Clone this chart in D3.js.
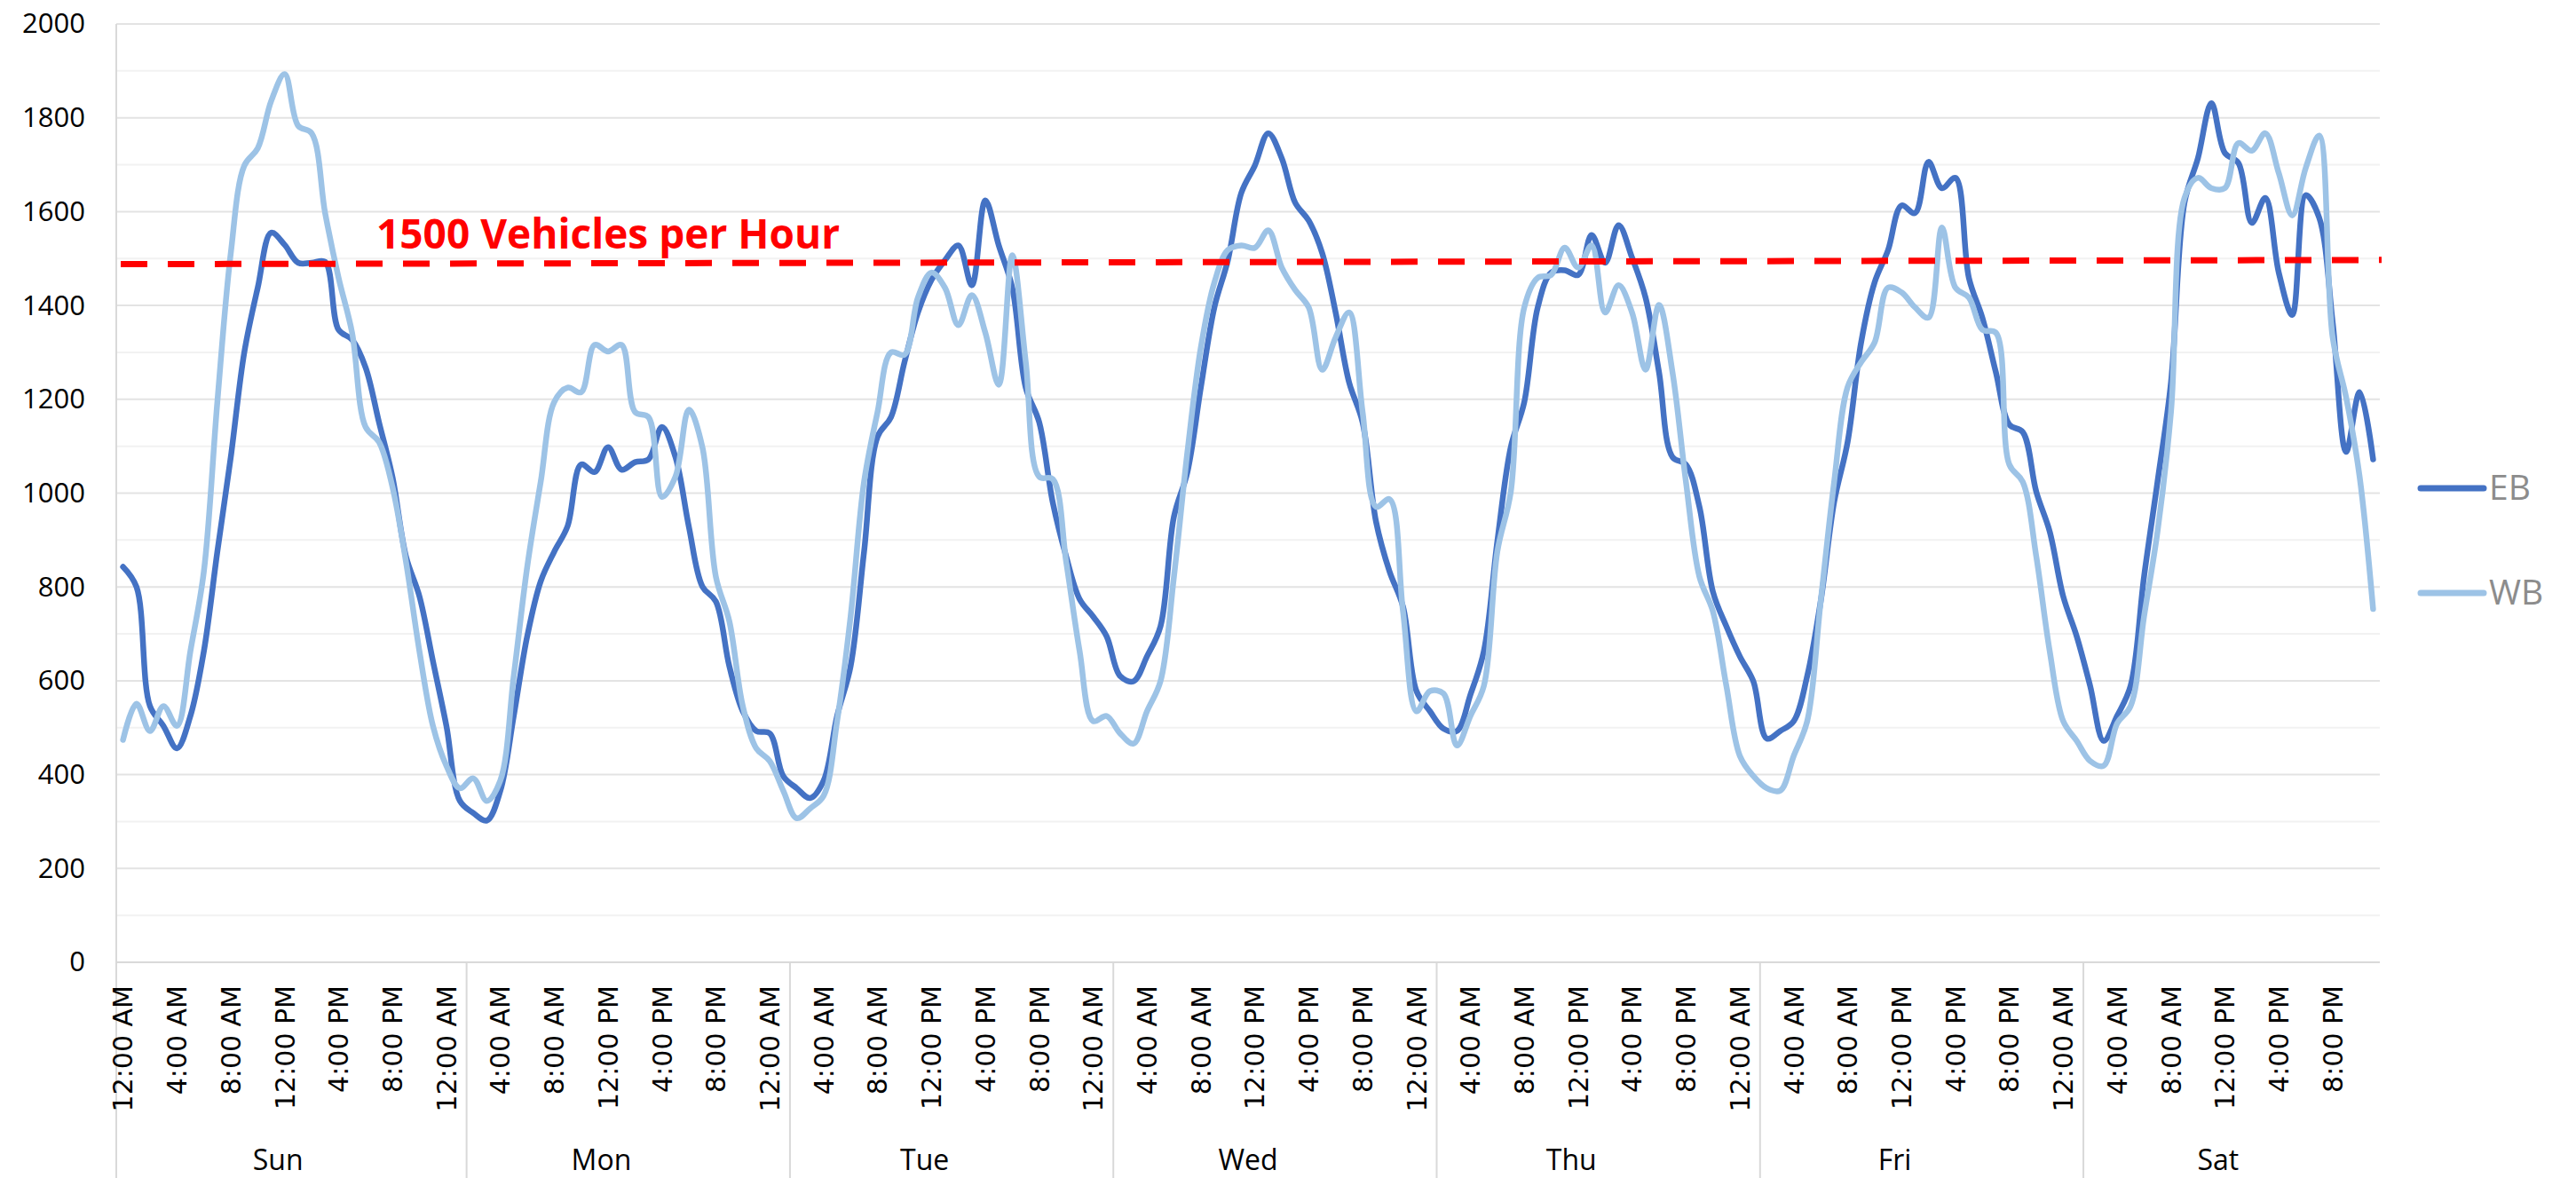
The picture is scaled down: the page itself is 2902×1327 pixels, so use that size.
<!DOCTYPE html>
<html>
<head>
<meta charset="utf-8">
<script src="https://cdn.jsdelivr.net/npm/d3@7"></script>
<style>
  body { margin: 0; background: #fff; }
  svg { display: block; }
</style>
</head>
<body>
<div id="chart"></div>
<script>
// hourly volumes, 168 points, Sun 12:00 AM .. Sat 11:00 PM
const days = ['Sun', 'Mon', 'Tue', 'Wed', 'Thu', 'Fri', 'Sat'];
const dayStarts = [0, 26, 50, 74, 98, 122, 146];
const hourLabels = ['12:00 AM', '4:00 AM', '8:00 AM', '12:00 PM', '4:00 PM', '8:00 PM'];

const eb = [
  843, 800, 546, 504, 456, 525, 663, 875, 1077, 1300, 1438, 1555, 1529, 1491, 1491, 1493,
  1348, 1327, 1268, 1151, 1034, 865, 780, 642, 504, 344, 318, 302, 365, 525, 695, 812,
  875, 930, 1061, 1045, 1098, 1050, 1066, 1072, 1141, 1077, 928, 801, 769, 631, 535, 493,
  488, 397, 371, 350, 387, 525, 631, 875, 1120, 1162, 1279, 1385, 1454, 1496, 1528, 1443,
  1624, 1528, 1438, 1225, 1151, 981, 865, 774, 737, 695, 610, 599, 652, 716, 950, 1045,
  1226, 1396, 1496, 1640, 1698, 1767, 1714, 1619, 1581, 1512, 1385, 1236, 1151, 939, 833, 758,
  578, 535, 498, 493, 570, 663, 897, 1098, 1194, 1396, 1470, 1475, 1465, 1550, 1491, 1571,
  1502, 1417, 1258, 1077, 1061, 971, 790, 716, 652, 599, 477, 493, 514, 610, 769, 981,
  1109, 1321, 1449, 1518, 1613, 1597, 1706, 1650, 1672, 1459, 1374, 1258, 1146, 1130, 1003, 918,
  780, 695, 589, 472, 525, 589, 822, 1024, 1236, 1619, 1714, 1831, 1725, 1704, 1576, 1629,
  1470, 1380, 1635, 1587, 1364, 1088, 1215, 1072
];

const wb = [
  474, 551, 493, 546, 504, 663, 833, 1194, 1512, 1698, 1735, 1836, 1893, 1783, 1767, 1597,
  1459, 1342, 1141, 1109, 1013, 854, 663, 504, 419, 371, 392, 344, 387, 610, 843, 1024,
  1194, 1225, 1215, 1316, 1302, 1316, 1173, 1162, 992, 1035, 1178, 1098, 822, 727, 546, 456,
  429, 366, 307, 328, 355, 514, 737, 1024, 1173, 1300, 1295, 1417, 1470, 1438, 1358, 1422,
  1342, 1231, 1507, 1280, 1035, 1030, 854, 663, 514, 525, 488, 466, 535, 599, 822, 1088,
  1311, 1449, 1518, 1528, 1523, 1560, 1481, 1433, 1396, 1263, 1332, 1385, 1173, 971, 987, 748,
  535, 578, 573, 462, 525, 589, 875, 1003, 1396, 1459, 1465, 1523, 1481, 1528, 1385, 1443,
  1385, 1263, 1401, 1258, 1024, 822, 748, 589, 440, 397, 371, 366, 440, 514, 769, 1024,
  1226, 1279, 1321, 1438, 1428, 1396, 1374, 1566, 1438, 1417, 1348, 1342, 1061, 1024, 865, 663,
  514, 472, 429, 419, 509, 546, 737, 918, 1173, 1629, 1672, 1650, 1650, 1746, 1730, 1767,
  1682, 1592, 1693, 1762, 1332, 1204, 1035, 753
];

const series = [
  { name: 'EB', values: eb, color: '#4472C4' },
  { name: 'WB', values: wb, color: '#9DC3E6' }
];

const yMajor = d3.range(0, 2001, 200);
const yMinor = d3.range(100, 2000, 200);
const threshold = [1488, 1497]; // drawn line, slightly off level in the original
const thresholdLabel = '1500 Vehicles per Hour';

const width = 2902, height = 1327;
const plot = { left: 131, right: 2681, top: 27, bottom: 1084 };

const svg = d3.select('#chart').append('svg')
  .attr('width', width)
  .attr('height', height);

const x = d3.scaleBand()
  .domain(d3.range(eb.length))
  .range([plot.left, plot.right])
  .paddingInner(0)
  .paddingOuter(0);

const y = d3.scaleLinear()
  .domain([0, 2000])
  .range([plot.bottom, plot.top]);

const cx = i => x(i) + x.bandwidth() / 2;

// gridlines
svg.append('g')
  .selectAll('line')
  .data(yMinor)
  .join('line')
  .attr('x1', plot.left).attr('x2', plot.right)
  .attr('y1', d => y(d)).attr('y2', d => y(d))
  .attr('stroke', '#f2f2f2')
  .attr('stroke-width', 2);

svg.append('g')
  .selectAll('line')
  .data(yMajor.filter(d => d > 0))
  .join('line')
  .attr('x1', plot.left).attr('x2', plot.right)
  .attr('y1', d => y(d)).attr('y2', d => y(d))
  .attr('stroke', '#e3e3e3')
  .attr('stroke-width', 2);

// y axis labels
const yAxis = d3.axisLeft(y)
  .tickValues(yMajor)
  .tickFormat(d3.format('d'))
  .tickSize(0)
  .tickPadding(35);

svg.append('g')
  .attr('transform', `translate(${plot.left},0)`)
  .call(yAxis)
  .call(g => g.select('.domain').remove())
  .selectAll('text')
  .attr('font-family', '"Open Sans", "Noto Sans", sans-serif')
  .attr('font-size', 31)
  .attr('fill', '#000');

// category axis: baseline, left edge, day separators
svg.append('line')
  .attr('x1', plot.left).attr('x2', plot.right)
  .attr('y1', y(0)).attr('y2', y(0))
  .attr('stroke', '#d9d9d9')
  .attr('stroke-width', 2);

svg.append('line')
  .attr('x1', plot.left).attr('x2', plot.left)
  .attr('y1', plot.top).attr('y2', height)
  .attr('stroke', '#d9d9d9')
  .attr('stroke-width', 2);

svg.append('g')
  .selectAll('line')
  .data(dayStarts.slice(1))
  .join('line')
  .attr('x1', d => x(d)).attr('x2', d => x(d))
  .attr('y1', y(0)).attr('y2', height)
  .attr('stroke', '#d9d9d9')
  .attr('stroke-width', 2);

// hour labels every 4 hours, rotated
const hourIdx = d3.range(0, eb.length, 4);
svg.append('g')
  .selectAll('text')
  .data(hourIdx)
  .join('text')
  .attr('transform', d => `translate(${cx(d)},1110) rotate(-90)`)
  .attr('text-anchor', 'end')
  .attr('dy', '0.36em')
  .attr('font-family', '"DejaVu Sans", Verdana, sans-serif')
  .attr('font-size', 30)
  .attr('fill', '#000')
  .text(d => hourLabels[(d / 4) % 6]);

// day labels
svg.append('g')
  .selectAll('text')
  .data(days)
  .join('text')
  .attr('x', (d, i) => x(i * 24 + 12))
  .attr('y', 1318)
  .attr('text-anchor', 'middle')
  .attr('font-family', '"Open Sans", "Noto Sans", sans-serif')
  .attr('font-size', 32)
  .attr('fill', '#000')
  .text(d => d);

// series
const line = d3.line()
  .x((d, i) => cx(i))
  .y(d => y(d))
  .curve(d3.curveCatmullRom.alpha(0.5));

svg.append('g')
  .selectAll('path')
  .data(series)
  .join('path')
  .attr('fill', 'none')
  .attr('stroke', d => d.color)
  .attr('stroke-width', 6.5)
  .attr('stroke-linejoin', 'round')
  .attr('stroke-linecap', 'round')
  .attr('d', d => line(d.values));

// threshold line and label
svg.append('line')
  .attr('x1', 136).attr('x2', 2683)
  .attr('y1', y(threshold[0])).attr('y2', y(threshold[1]))
  .attr('stroke', '#FF0000')
  .attr('stroke-width', 7)
  .attr('stroke-dasharray', '30,23');

svg.append('text')
  .attr('x', 424)
  .attr('y', 280)
  .attr('font-family', '"Open Sans", "Noto Sans", sans-serif')
  .attr('font-weight', 'bold')
  .attr('font-size', 46)
  .attr('fill', '#FF0000')
  .text(thresholdLabel);

// legend
const legend = svg.append('g')
  .selectAll('g')
  .data(series)
  .join('g')
  .attr('transform', (d, i) => `translate(2727,${550 + i * 118})`);

legend.append('line')
  .attr('x1', 0).attr('x2', 71)
  .attr('stroke', d => d.color)
  .attr('stroke-width', 7)
  .attr('stroke-linecap', 'round');

legend.append('text')
  .attr('x', 77)
  .attr('y', 13)
  .attr('font-family', '"Open Sans", "Noto Sans", sans-serif')
  .attr('font-size', 39)
  .attr('fill', '#8c8c8c')
  .text(d => d.name);
</script>
</body>
</html>
